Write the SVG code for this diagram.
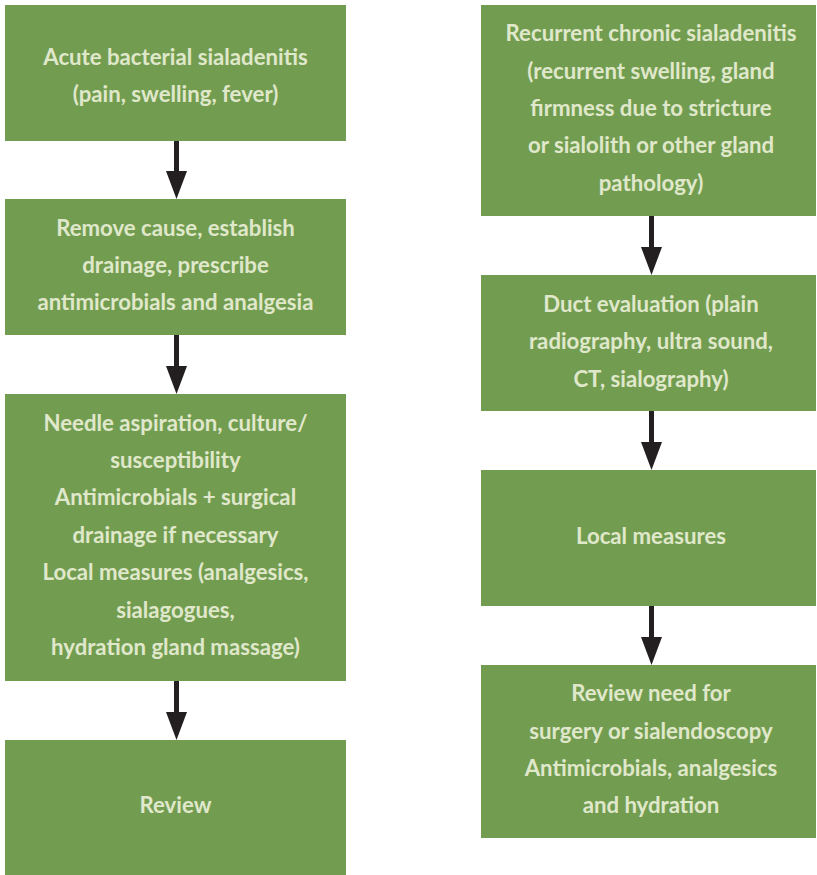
<svg xmlns="http://www.w3.org/2000/svg" width="817" height="875" viewBox="0 0 817 875">
<style>
.box{fill:#729d50}
.t{font-family:Lato,"Open Sans","Liberation Sans",sans-serif;font-weight:bold;font-size:22.2px;fill:#e0e8cc;text-anchor:middle}
.c{stroke:#231f20;stroke-width:5;fill:none;marker-end:url(#ah)}
</style>
<defs>
<marker id="ah" markerUnits="userSpaceOnUse" markerWidth="28" markerHeight="21" refX="0" refY="10.5" orient="auto" viewBox="0 0 28 21">
<path d="M0,0 L28,10.5 L0,21 Z" fill="#231f20"/>
</marker>
</defs>
<rect width="817" height="875" fill="#fff"/>
<g id="connectors">
<line class="c" x1="176.5" y1="141" x2="176.5" y2="171"/>
<line class="c" x1="176.5" y1="335" x2="176.5" y2="366"/>
<line class="c" x1="176.5" y1="681" x2="176.5" y2="712"/>
<line class="c" x1="651.5" y1="216" x2="651.5" y2="247"/>
<line class="c" x1="651.5" y1="411" x2="651.5" y2="442"/>
<line class="c" x1="651.5" y1="606" x2="651.5" y2="637"/>
</g>
<g id="n1"><rect class="box" x="5" y="5" width="341" height="136"/>
<text class="t" x="175.5" y="65">Acute bacterial sialadenitis</text>
<text class="t" x="175.5" y="102">(pain, swelling, fever)</text></g>
<g id="n2"><rect class="box" x="5" y="199" width="341" height="136"/>
<text class="t" x="175.5" y="236">Remove cause, establish</text>
<text class="t" x="175.5" y="273">drainage, prescribe</text>
<text class="t" x="175.5" y="310">antimicrobials and analgesia</text></g>
<g id="n3"><rect class="box" x="5" y="394" width="341" height="287"/>
<text class="t" x="175.5" y="431">Needle aspiration, culture/</text>
<text class="t" x="175.5" y="468">susceptibility</text>
<text class="t" x="175.5" y="505">Antimicrobials + surgical</text>
<text class="t" x="175.5" y="543">drainage if necessary</text>
<text class="t" x="175.5" y="580">Local measures (analgesics,</text>
<text class="t" x="175.5" y="618">sialagogues,</text>
<text class="t" x="175.5" y="655">hydration gland massage)</text></g>
<g id="n4"><rect class="box" x="5" y="740" width="341" height="135"/>
<text class="t" x="175.5" y="813">Review</text></g>
<g id="n5"><rect class="box" x="481" y="5" width="335" height="211"/>
<text class="t" x="651" y="41">Recurrent chronic sialadenitis</text>
<text class="t" x="651" y="79">(recurrent swelling, gland</text>
<text class="t" x="651" y="116">firmness due to stricture</text>
<text class="t" x="651" y="153">or sialolith or other gland</text>
<text class="t" x="651" y="191">pathology)</text></g>
<g id="n6"><rect class="box" x="481" y="275" width="335" height="136"/>
<text class="t" x="651" y="312">Duct evaluation (plain</text>
<text class="t" x="651" y="349">radiography, ultra sound,</text>
<text class="t" x="651" y="387">CT, sialography)</text></g>
<g id="n7"><rect class="box" x="481" y="470" width="335" height="136"/>
<text class="t" x="651" y="544">Local measures</text></g>
<g id="n8"><rect class="box" x="481" y="665" width="335" height="173"/>
<text class="t" x="651" y="701">Review need for</text>
<text class="t" x="651" y="739">surgery or sialendoscopy</text>
<text class="t" x="651" y="776">Antimicrobials, analgesics</text>
<text class="t" x="651" y="813">and hydration</text></g>
</svg>
